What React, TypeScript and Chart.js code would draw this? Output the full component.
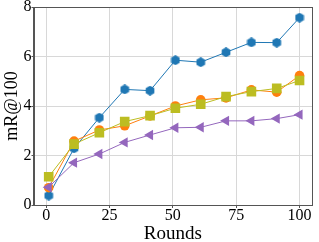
import React, { useEffect, useRef } from "react";
import { Chart, registerables } from "chart.js";

Chart.register(...registerables);

const rounds = [1, 11, 21, 31, 41, 51, 61, 71, 81, 91, 100];
const blueSeries = [0.38, 2.29, 3.53, 4.67, 4.62, 5.85, 5.77, 6.17, 6.57, 6.56, 7.57];
const orangeSeries = [0.7, 2.58, 3.03, 3.2, 3.6, 4.0, 4.25, 4.33, 4.65, 4.56, 5.23];
const oliveSeries = [1.14, 2.46, 2.92, 3.37, 3.61, 3.91, 4.07, 4.38, 4.58, 4.71, 5.03];
const purpleSeries = [0.72, 1.71, 2.06, 2.53, 2.83, 3.12, 3.14, 3.4, 3.4, 3.49, 3.65];
const xTicks = [0, 25, 50, 75, 100];
const yTicks = [0, 2, 4, 6, 8];

const FONT = "'Liberation Serif', 'DejaVu Serif', serif";

function makeHexagon(color: string, size: number): HTMLCanvasElement {
  const c = document.createElement("canvas");
  c.width = size;
  c.height = size;
  const ctx = c.getContext("2d")!;
  const r = size / 2;
  ctx.beginPath();
  for (let i = 0; i < 6; i++) {
    const a = -Math.PI / 2 + (i * Math.PI) / 3;
    const px = r + r * Math.cos(a);
    const py = r + r * Math.sin(a);
    if (i === 0) ctx.moveTo(px, py);
    else ctx.lineTo(px, py);
  }
  ctx.closePath();
  ctx.fillStyle = color;
  ctx.fill();
  return c;
}

const framePlugin = {
  id: "frame",
  afterDraw(chart: any) {
    const { ctx, chartArea } = chart;
    ctx.save();
    ctx.strokeStyle = "#555";
    ctx.lineWidth = 1;
    ctx.strokeRect(
      Math.round(chartArea.left) + 0.5,
      Math.round(chartArea.top) + 0.5,
      Math.round(chartArea.right - chartArea.left) - 1,
      Math.round(chartArea.bottom - chartArea.top)
    );
    ctx.restore();
  },
};

export default function App() {
  const ref = useRef<HTMLCanvasElement>(null);

  useEffect(() => {
    document.body.style.margin = "0";
    const hex = makeHexagon("#1f77b4", 10);
    const pts = (ys: number[]) => rounds.map((x, i) => ({ x, y: ys[i] }));
    const chart = new Chart(ref.current!, {
      type: "line",
      data: {
        datasets: [
          {
            data: pts(oliveSeries),
            borderColor: "#bcbd22",
            backgroundColor: "#bcbd22",
            pointStyle: "rect",
            pointRadius: 6.8,
            pointBorderWidth: 0,
            borderWidth: 1,
          },
          {
            data: pts(purpleSeries),
            borderColor: "#9467bd",
            backgroundColor: "#9467bd",
            pointStyle: "triangle",
            rotation: -90,
            pointRadius: 6,
            pointBorderWidth: 0,
            borderWidth: 1,
          },
          {
            data: pts(orangeSeries),
            borderColor: "#ff7f0e",
            backgroundColor: "#ff7f0e",
            pointStyle: "circle",
            pointRadius: 4.8,
            pointBorderWidth: 0,
            borderWidth: 1,
          },
          {
            data: pts(blueSeries),
            borderColor: "#1f77b4",
            backgroundColor: "#1f77b4",
            pointStyle: hex as any,
            pointRadius: 5,
            pointBorderWidth: 0,
            borderWidth: 1,
          },
        ],
      },
      options: {
        animation: false,
        responsive: false,
        maintainAspectRatio: false,
        layout: { padding: { left: 0, right: 4, top: 7, bottom: 0 } },
        plugins: { legend: { display: false }, tooltip: { enabled: false } },
        scales: {
          x: {
            type: "linear",
            min: -5,
            max: 105,
            afterBuildTicks: (s: any) => {
              s.ticks = xTicks.map((v) => ({ value: v }));
            },
            afterFit: (s: any) => {
              s.height = 37;
              s.paddingLeft = 0;
              s.paddingRight = 0;
            },
            grid: { color: "#d8d8d8", lineWidth: 1, tickLength: 3, tickColor: "#555" },
            border: { color: "#555", width: 1 },
            ticks: { color: "#000", padding: 0, font: { family: FONT, size: 16, lineHeight: 1 }, maxRotation: 0 },
            title: {
              display: true,
              text: "Rounds",
              color: "#000",
              font: { family: FONT, size: 19, lineHeight: 1 },
              padding: { top: 0, bottom: -1.5 },
            },
          },
          y: {
            type: "linear",
            min: 0,
            max: 8,
            afterBuildTicks: (s: any) => {
              s.ticks = yTicks.map((v) => ({ value: v }));
            },
            afterFit: (s: any) => {
              s.width = 33.5;
              s.paddingTop = 0;
              s.paddingBottom = 0;
            },
            grid: { color: "#d8d8d8", lineWidth: 1, tickLength: 2, tickColor: "#555" },
            border: { color: "#555", width: 1 },
            ticks: { color: "#000", padding: 0, font: { family: FONT, size: 16, lineHeight: 1.2 } },
            title: {
              display: true,
              text: "mR@100",
              color: "#000",
              font: { family: FONT, size: 18, lineHeight: 1 },
              padding: { top: 3, bottom: 0 },
            },
          },
        },
      },
      plugins: [framePlugin],
    });
    return () => chart.destroy();
  }, []);

  return (
    <div style={{ width: 319, height: 242 }}>
      <canvas ref={ref} width={319} height={242} style={{ display: "block" }} />
    </div>
  );
}
